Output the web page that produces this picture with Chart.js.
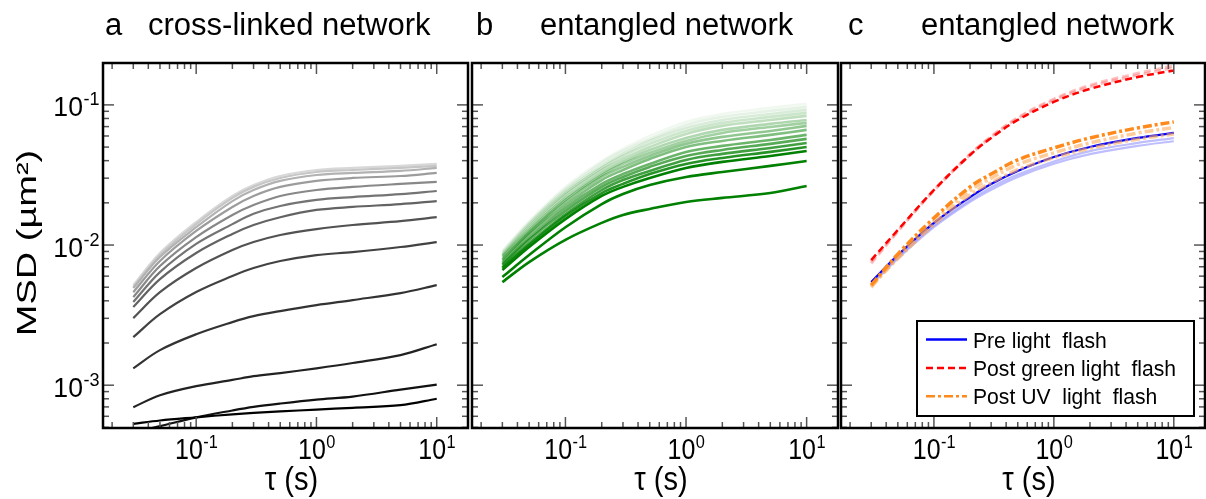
<!DOCTYPE html>
<html>
<head>
<meta charset="utf-8">
<script src="https://cdn.jsdelivr.net/npm/chart.js@4.4.0/dist/chart.umd.min.js"></script>
<style>
  body { margin: 0; background: #fff; }
  #wrap { position: relative; width: 1206px; height: 499px; }
  #wrap canvas { position: absolute; left: 0; top: 0; }
</style>
</head>
<body>
<div id="wrap">
  <canvas id="panel_a" width="1206" height="499"></canvas>
  <canvas id="panel_b" width="1206" height="499"></canvas>
  <canvas id="panel_c" width="1206" height="499"></canvas>
</div>
<script>
// lag times (s), shared by every curve
const tau = [0.03, 0.05, 0.1, 0.2, 0.3, 0.5, 1, 2, 5, 10];

// panel a: cross-linked network, darkest curve first
const msd_crosslinked = [
  [5.3e-4, 5.6e-4, 5.9e-4, 6.2e-4, 6.35e-4, 6.5e-4, 6.7e-4, 6.9e-4, 7.2e-4, 8.0e-4],
  [4.6e-4, 5.1e-4, 5.9e-4, 6.6e-4, 7.0e-4, 7.4e-4, 7.9e-4, 8.3e-4, 9.3e-4, 1.01e-3],
  [6.97e-4, 8.48e-4, 9.84e-4, 1.09e-3, 1.16e-3, 1.22e-3, 1.32e-3, 1.44e-3, 1.64e-3, 1.96e-3],
  [1.32e-3, 1.78e-3, 2.31e-3, 2.82e-3, 3.11e-3, 3.38e-3, 3.73e-3, 4.05e-3, 4.54e-3, 5.18e-3],
  [2.20e-3, 3.21e-3, 4.62e-3, 6.01e-3, 6.85e-3, 7.69e-3, 8.48e-3, 8.91e-3, 9.68e-3, 1.05e-2],
  [3.01e-3, 4.61e-3, 6.85e-3, 9.21e-3, 1.05e-2, 1.18e-2, 1.30e-2, 1.39e-2, 1.48e-2, 1.58e-2],
  [3.61e-3, 5.71e-3, 8.77e-3, 1.20e-2, 1.39e-2, 1.58e-2, 1.78e-2, 1.87e-2, 1.96e-2, 2.06e-2],
  [3.92e-3, 6.41e-3, 1.02e-2, 1.41e-2, 1.67e-2, 1.90e-2, 2.10e-2, 2.20e-2, 2.31e-2, 2.43e-2],
  [4.25e-3, 7.08e-3, 1.14e-2, 1.64e-2, 1.93e-2, 2.24e-2, 2.47e-2, 2.60e-2, 2.73e-2, 2.82e-2],
  [4.61e-3, 7.69e-3, 1.26e-2, 1.87e-2, 2.24e-2, 2.60e-2, 2.87e-2, 3.01e-2, 3.11e-2, 3.27e-2],
  [4.93e-3, 8.21e-3, 1.34e-2, 2.06e-2, 2.47e-2, 2.87e-2, 3.16e-2, 3.27e-2, 3.38e-2, 3.55e-2],
  [5.01e-3, 8.48e-3, 1.41e-2, 2.17e-2, 2.60e-2, 3.01e-2, 3.32e-2, 3.43e-2, 3.55e-2, 3.67e-2],
  [5.18e-3, 8.77e-3, 1.46e-2, 2.24e-2, 2.68e-2, 3.11e-2, 3.43e-2, 3.55e-2, 3.67e-2, 3.79e-2]
];
const grey_shades = ['#000000', '#111111', '#222222', '#333333', '#424242', '#525252', '#636363',
  '#747474', '#888888', '#9c9c9c', '#b2b2b2', '#c6c6c6', '#d8d8d8'];

// panel b: entangled network, strongest curve first
const msd_entangled = [
  [5.44e-3, 7.56e-3, 1.09e-2, 1.44e-2, 1.64e-2, 1.81e-2, 2.03e-2, 2.17e-2, 2.35e-2, 2.64e-2],
  [5.91e-3, 8.48e-3, 1.34e-2, 1.96e-2, 2.31e-2, 2.68e-2, 3.06e-2, 3.32e-2, 3.67e-2, 3.98e-2],
  [6.63e-3, 9.68e-3, 1.53e-2, 2.24e-2, 2.60e-2, 3.01e-2, 3.55e-2, 3.92e-2, 4.32e-2, 4.69e-2],
  [6.85e-3, 1.00e-2, 1.61e-2, 2.35e-2, 2.73e-2, 3.21e-2, 3.79e-2, 4.18e-2, 4.62e-2, 5.01e-2],
  [6.96e-3, 1.03e-2, 1.66e-2, 2.47e-2, 2.91e-2, 3.38e-2, 4.05e-2, 4.47e-2, 4.93e-2, 5.35e-2],
  [7.20e-3, 1.09e-2, 1.75e-2, 2.60e-2, 3.06e-2, 3.61e-2, 4.32e-2, 4.77e-2, 5.27e-2, 5.72e-2],
  [7.32e-3, 1.12e-2, 1.84e-2, 2.73e-2, 3.21e-2, 3.79e-2, 4.62e-2, 5.10e-2, 5.62e-2, 6.11e-2],
  [7.56e-3, 1.18e-2, 1.93e-2, 2.91e-2, 3.43e-2, 4.11e-2, 5.01e-2, 5.53e-2, 6.11e-2, 6.63e-2],
  [7.81e-3, 1.22e-2, 2.03e-2, 3.06e-2, 3.61e-2, 4.32e-2, 5.27e-2, 5.91e-2, 6.52e-2, 7.08e-2],
  [7.94e-3, 1.24e-2, 2.10e-2, 3.16e-2, 3.79e-2, 4.54e-2, 5.53e-2, 6.31e-2, 6.96e-2, 7.44e-2],
  [8.21e-3, 1.28e-2, 2.17e-2, 3.27e-2, 3.92e-2, 4.77e-2, 5.81e-2, 6.63e-2, 7.32e-2, 7.81e-2],
  [8.35e-3, 1.32e-2, 2.28e-2, 3.43e-2, 4.11e-2, 5.01e-2, 6.21e-2, 7.08e-2, 7.81e-2, 8.35e-2],
  [8.48e-3, 1.37e-2, 2.35e-2, 3.55e-2, 4.32e-2, 5.27e-2, 6.52e-2, 7.44e-2, 8.21e-2, 8.77e-2],
  [8.62e-3, 1.41e-2, 2.43e-2, 3.67e-2, 4.47e-2, 5.53e-2, 6.85e-2, 7.81e-2, 8.62e-2, 9.21e-2],
  [8.91e-3, 1.44e-2, 2.51e-2, 3.85e-2, 4.69e-2, 5.72e-2, 7.20e-2, 8.21e-2, 9.06e-2, 9.68e-2],
  [9.06e-3, 1.48e-2, 2.60e-2, 3.98e-2, 4.85e-2, 6.01e-2, 7.56e-2, 8.62e-2, 9.52e-2, 1.017e-1]
];
const green_alpha = [1, 1, 1, 0.85, 0.75, 0.66, 0.58, 0.5, 0.43, 0.37, 0.31, 0.25, 0.2, 0.15, 0.1, 0.06];

// panel c: one sample before and after light flashes
const pre_flash = [5.44e-3, 8.48e-3, 1.44e-2, 2.20e-2, 2.73e-2, 3.38e-2, 4.25e-2, 5.01e-2, 5.81e-2, 6.31e-2];
const pre_flash_repeats = [
  [5.3e-3, 8.2e-3, 1.38e-2, 2.10e-2, 2.58e-2, 3.18e-2, 3.95e-2, 4.68e-2, 5.35e-2, 5.8e-2],
  [5.2e-3, 8.0e-3, 1.34e-2, 2.03e-2, 2.48e-2, 3.06e-2, 3.8e-2, 4.45e-2, 5.1e-2, 5.5e-2]
];
const post_green = [7.81e-3, 1.28e-2, 2.47e-2, 4.39e-2, 5.81e-2, 7.81e-2, 0.105, 0.130, 0.158, 0.176];
const post_green_repeats = [
  [7.6e-3, 1.26e-2, 2.47e-2, 4.45e-2, 5.95e-2, 8.1e-2, 0.110, 0.138, 0.168, 0.190],
  [7.4e-3, 1.25e-2, 2.45e-2, 4.4e-2, 5.9e-2, 8.0e-2, 0.108, 0.135, 0.163, 0.184]
];
const post_uv = [5.18e-3, 8.62e-3, 1.56e-2, 2.60e-2, 3.21e-2, 4.05e-2, 4.93e-2, 5.81e-2, 6.85e-2, 7.56e-2];
const post_uv_repeats = [
  [5.0e-3, 8.3e-3, 1.48e-2, 2.45e-2, 3.0e-2, 3.75e-2, 4.55e-2, 5.35e-2, 6.3e-2, 6.9e-2],
  [5.1e-3, 8.0e-3, 1.40e-2, 2.28e-2, 2.78e-2, 3.45e-2, 4.2e-2, 4.9e-2, 5.7e-2, 6.2e-2]
];
const legend_labels = ['Pre light  flash', 'Post green light  flash', 'Post UV  light  flash'];

// axes and labels
const x_range = [0.0168, 18.2];
const y_range = [4.95e-4, 0.199];
const x_label_exps = [-1, 0, 1];
const y_label_exps = [-1, -2, -3];
const panel_letters = ['a', 'b', 'c'];
const panel_titles = ['cross-linked network', 'entangled network', 'entangled network'];
const x_title = 'τ (s)';
const y_title = 'MSD (µm²)';

const FONT = "'Liberation Sans', Arial, sans-serif";

function pts(vals) {
  return vals.map((v, i) => ({x: tau[i], y: v}));
}

function line(ctx, x1, y1, x2, y2) {
  ctx.beginPath();
  ctx.moveTo(x1, y1);
  ctx.lineTo(x2, y2);
  ctx.stroke();
}

// text squeezed horizontally like the original figure
function sqText(ctx, txt, x, y, size, sx) {
  ctx.save();
  ctx.font = size + 'px ' + FONT;
  ctx.textAlign = 'left';
  ctx.textBaseline = 'alphabetic';
  ctx.translate(x, y);
  ctx.scale(sx, 1);
  ctx.fillText(txt, 0, 0);
  ctx.restore();
}
function sqWidth(ctx, txt, size, sx) {
  ctx.font = size + 'px ' + FONT;
  return ctx.measureText(txt).width * sx;
}
function powLabel(ctx, exp, x, baseline, big, small, sx, align) {
  const e = String(exp);
  const w1 = sqWidth(ctx, '10', big, sx), w2 = sqWidth(ctx, e, small, sx);
  let left = x - (w1 + w2) / 2;
  if (align === 'right') left = x - w1 - w2;
  sqText(ctx, '10', left, baseline, big, sx);
  sqText(ctx, e, left + w1 + 0.5, baseline - 11, small, sx);
}

const decor = {
  id: 'decor',
  afterDraw(chart, args, opts) {
    const ctx = chart.ctx, a = chart.chartArea;
    const xs = chart.scales.x, ys = chart.scales.y;
    ctx.save();
    ctx.fillStyle = '#000';

    // inward ticks on all four sides
    ctx.strokeStyle = '#555';
    ctx.lineWidth = 1.5;
    for (let e = -3; e <= 1; e++) {
      for (let m = 1; m < 10; m++) {
        const v = m * Math.pow(10, e);
        if (v < xs.min || v > xs.max) continue;
        const px = xs.getPixelForValue(v);
        const len = m === 1 ? 11 : 6;
        line(ctx, px, a.top, px, a.top + len);
        line(ctx, px, a.bottom, px, a.bottom - len);
      }
    }
    for (let e = -4; e <= -1; e++) {
      for (let m = 1; m < 10; m++) {
        const v = m * Math.pow(10, e);
        if (v < ys.min || v > ys.max) continue;
        const py = ys.getPixelForValue(v);
        const len = m === 1 ? 11 : 6;
        line(ctx, a.left, py, a.left + len, py);
        line(ctx, a.right, py, a.right - len, py);
      }
    }

    ctx.strokeStyle = '#000';
    ctx.lineWidth = 2.5;
    ctx.strokeRect(a.left, a.top, a.right - a.left, a.bottom - a.top);

    // tick labels
    x_label_exps.forEach(e => {
      powLabel(ctx, e, xs.getPixelForValue(Math.pow(10, e)), 459, 29, 19, 0.86, 'center');
    });
    if (opts.yLabels) {
      y_label_exps.forEach(e => {
        powLabel(ctx, e, 99, ys.getPixelForValue(Math.pow(10, e)) + 11.5, 28, 19, 0.95, 'right');
      });
      ctx.save();
      ctx.translate(28, 243);
      ctx.rotate(-Math.PI / 2);
      ctx.scale(1, 0.72);
      ctx.font = '38px ' + FONT;
      ctx.textAlign = 'center';
      ctx.textBaseline = 'middle';
      ctx.fillText(y_title, 0, 0);
      ctx.restore();
    }

    // axis title
    const tw = sqWidth(ctx, x_title, 33, 0.88);
    sqText(ctx, x_title, (a.left + a.right) / 2 + 6 - tw / 2, 490, 33, 0.88);

    // panel title
    ctx.font = '31px ' + FONT;
    ctx.textAlign = 'left';
    ctx.textBaseline = 'alphabetic';
    ctx.fillText(opts.letter, opts.letterX, 35);
    ctx.fillText(opts.title, opts.titleX, 35);

    // legend box
    if (opts.legend) {
      const L = opts.legend;
      ctx.fillStyle = '#fff';
      ctx.fillRect(L.x, L.y, L.w, L.h);
      ctx.strokeStyle = '#000';
      ctx.lineWidth = 2;
      ctx.strokeRect(L.x, L.y, L.w, L.h);
      L.items.forEach((it, i) => {
        const cy = L.y + 18.5 + i * 28.4;
        ctx.save();
        ctx.strokeStyle = it.color;
        ctx.lineWidth = it.width;
        ctx.setLineDash(it.dash);
        line(ctx, L.x + 9, cy, L.x + 50, cy);
        ctx.restore();
        ctx.fillStyle = '#000';
        sqText(ctx, it.label, L.x + 56, cy + 8, 22, 0.96);
      });
    }
    ctx.restore();
  }
};

function makeChart(id, datasets, pad, opts) {
  return new Chart(document.getElementById(id), {
    type: 'line',
    data: {datasets: datasets},
    options: {
      responsive: false,
      animation: false,
      layout: {padding: pad},
      elements: {point: {radius: 0}, line: {tension: 0.35, borderCapStyle: 'butt'}},
      scales: {
        x: {type: 'logarithmic', min: x_range[0], max: x_range[1], display: false},
        y: {type: 'logarithmic', min: y_range[0], max: y_range[1], display: false}
      },
      plugins: {legend: {display: false}, tooltip: {enabled: false}, decor: opts}
    },
    plugins: [decor]
  });
}

// panel a
const ds_a = msd_crosslinked.map((vals, i) => ({
  data: pts(vals), borderColor: grey_shades[i], borderWidth: 2.2, fill: false
}));
makeChart('panel_a', ds_a, {left: 103, top: 63, right: 1206 - 468, bottom: 499 - 428},
  {yLabels: true, letter: panel_letters[0], letterX: 105, title: panel_titles[0], titleX: 148});

// panel b
const ds_b = msd_entangled.map((vals, i) => ({
  data: pts(vals), borderColor: 'rgba(0,128,0,' + green_alpha[i] + ')', borderWidth: 2.6, fill: false
}));
makeChart('panel_b', ds_b, {left: 472, top: 63, right: 1206 - 838, bottom: 499 - 428},
  {yLabels: false, letter: panel_letters[1], letterX: 476, title: panel_titles[1], titleX: 540});

// panel c
const red_dash = [7, 4];
const uv_dash = [9, 3, 3, 3];
const ds_c = [
  {data: pts(post_green), borderColor: '#ff0000', borderWidth: 2.5, borderDash: red_dash},
  ...post_green_repeats.map(v => ({data: pts(v), borderColor: 'rgba(255,120,120,0.45)', borderWidth: 3, borderDash: red_dash})),
  {data: pts(post_uv), borderColor: '#ff8a1c', borderWidth: 3.5, borderDash: uv_dash},
  ...post_uv_repeats.map(v => ({data: pts(v), borderColor: 'rgba(255,170,90,0.6)', borderWidth: 3.5, borderDash: uv_dash})),
  {data: pts(pre_flash), borderColor: '#0000ff', borderWidth: 2.2},
  ...pre_flash_repeats.map(v => ({data: pts(v), borderColor: 'rgba(110,110,255,0.45)', borderWidth: 2.2}))
];
makeChart('panel_c', ds_c, {left: 841, top: 63, right: 1206 - 1205, bottom: 499 - 428},
  {yLabels: false, letter: panel_letters[2], letterX: 848, title: panel_titles[2], titleX: 921,
   legend: {x: 917, y: 321, w: 277, h: 95, items: [
     {label: legend_labels[0], color: '#0000ff', width: 2.5, dash: []},
     {label: legend_labels[1], color: '#ff0000', width: 2.5, dash: red_dash},
     {label: legend_labels[2], color: '#ff8a1c', width: 2.5, dash: uv_dash}
   ]}});
</script>
</body>
</html>
